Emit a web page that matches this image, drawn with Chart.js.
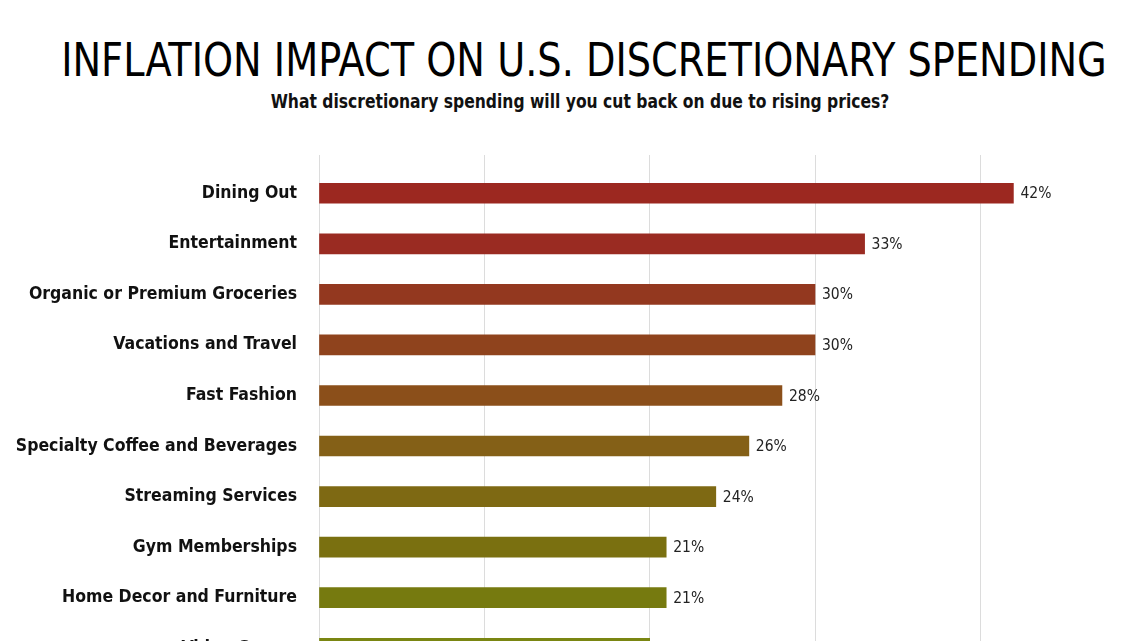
<!DOCTYPE html>
<html>
<head>
<meta charset="utf-8">
<script src="https://cdn.jsdelivr.net/npm/chart.js@4"></script>
<style>
  html, body { margin: 0; padding: 0; background: #fff; overflow: hidden; }
  body { width: 1140px; height: 641px; position: relative; font-family: "DejaVu Sans Condensed", Roboto, sans-serif; }
  h1 { position: absolute; top: 34px; left: 14px; width: 1140px; margin: 0; text-align: center; font-weight: normal; font-size: 46px; line-height: 52px; color: #000; transform: scaleX(0.925); }
  h2 { position: absolute; top: 88px; left: 10px; width: 1140px; margin: 0; text-align: center; font-weight: bold; font-size: 20px; line-height: 26px; color: #111; transform: scaleX(0.865); }
  #wrap { position: absolute; top: 130px; left: 0; width: 1140px; height: 576px; }
</style>
</head>
<body>
<h1>INFLATION IMPACT ON U.S. DISCRETIONARY SPENDING</h1>
<h2>What discretionary spending will you cut back on due to rising prices?</h2>
<div id="wrap"><canvas id="chart" width="1140" height="576"></canvas></div>
<script>
const categories = [
  'Dining Out',
  'Entertainment',
  'Organic or Premium Groceries',
  'Vacations and Travel',
  'Fast Fashion',
  'Specialty Coffee and Beverages',
  'Streaming Services',
  'Gym Memberships',
  'Home Decor and Furniture',
  'Video Games'
];
const percents = [42, 33, 30, 30, 28, 26, 24, 21, 21, 20];
const barColors = [
  '#9c2820', '#9a2b22', '#93381f', '#8f431d', '#8b4f1a',
  '#846017', '#7e6913', '#7a7010', '#767a0f', '#7a8612'
];

const fontFamily = '"DejaVu Sans Condensed", Roboto, sans-serif';

// Draw the "42%" labels at the end of each bar
const valueLabels = {
  id: 'valueLabels',
  afterDatasetsDraw(chart) {
    const ctx = chart.ctx;
    const meta = chart.getDatasetMeta(0);
    ctx.save();
    ctx.font = '15.5px ' + fontFamily;
    ctx.fillStyle = '#222';
    ctx.textAlign = 'left';
    ctx.textBaseline = 'middle';
    meta.data.forEach((bar, i) => {
      ctx.fillText(percents[i] + '%', bar.x + 7, bar.y + 1);
    });
    ctx.restore();
  }
};

new Chart(document.getElementById('chart'), {
  type: 'bar',
  data: {
    labels: categories,
    datasets: [{
      data: percents,
      backgroundColor: barColors,
      barThickness: 20
    }]
  },
  options: {
    indexAxis: 'y',
    responsive: false,
    animation: false,
    layout: { padding: { left: 0, right: 77, top: 0, bottom: 0 } },
    plugins: {
      legend: { display: false },
      tooltip: { enabled: false }
    },
    scales: {
      x: {
        position: 'top',
        min: 0,
        max: 45,
        ticks: { display: false, stepSize: 10 },
        afterBuildTicks: axis => { axis.ticks = axis.ticks.filter(t => t.value % 10 === 0); },
        afterFit: axis => { axis.height = 38; },
        grid: { color: '#dcdcdc', lineWidth: 1, drawTicks: true, tickLength: 13 },
        border: { display: false }
      },
      y: {
        afterFit: axis => { axis.width = 319; },
        grid: { display: false, drawTicks: false },
        border: { display: false },
        ticks: {
          padding: 22,
          color: '#111',
          font: { family: fontFamily, size: 17.5, weight: 'bold' }
        }
      }
    }
  },
  plugins: [valueLabels]
});
</script>
</body>
</html>
